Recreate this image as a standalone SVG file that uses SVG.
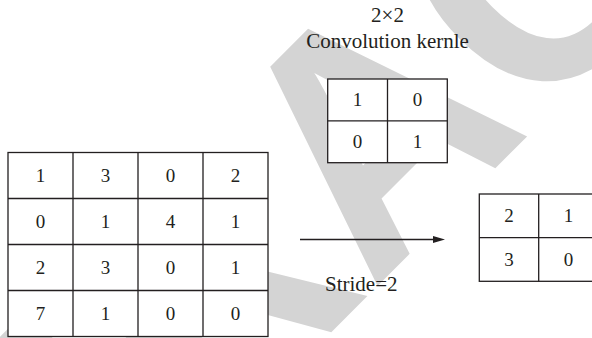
<svg xmlns="http://www.w3.org/2000/svg" width="592" height="338" viewBox="0 0 592 338">
  <defs>
    <style>
      .wm { font-family: "Liberation Sans", Arial, sans-serif; font-weight: bold; font-size: 325px; fill: #d4d4d4; }
      .grid { fill: #ffffff; stroke: #231f20; stroke-width: 1.3; }
      .ln { stroke: #231f20; stroke-width: 1.3; fill: none; }
      .num { font-family: "Liberation Serif", "Times New Roman", serif; font-size: 19px; fill: #231f20; text-anchor: middle; }
      .lbl { font-family: "Liberation Serif", "Times New Roman", serif; font-size: 21px; fill: #231f20; }
    </style>
  </defs>
  <rect width="592" height="338" fill="#ffffff"/>

  <!-- background stamp, drawn first so the white cells sit above it -->
  <text class="wm" x="0" y="0" text-anchor="middle" transform="translate(452.5,211) rotate(-45) scale(0.97,1.033)">RETRACTED</text>

  <!-- 4x4 input matrix -->
  <g id="input-matrix">
    <rect class="grid" x="8" y="152.5" width="260" height="184"/>
    <path class="ln" d="M73 152.5V336.5M138 152.5V336.5M203 152.5V336.5M8 198.5H268M8 244.5H268M8 290.5H268"/>
    <text class="num" x="40.5" y="181.5">1</text>
    <text class="num" x="105.5" y="181.5">3</text>
    <text class="num" x="170.5" y="181.5">0</text>
    <text class="num" x="235.5" y="181.5">2</text>
    <text class="num" x="40.5" y="227.5">0</text>
    <text class="num" x="105.5" y="227.5">1</text>
    <text class="num" x="170.5" y="227.5">4</text>
    <text class="num" x="235.5" y="227.5">1</text>
    <text class="num" x="40.5" y="273.5">2</text>
    <text class="num" x="105.5" y="273.5">3</text>
    <text class="num" x="170.5" y="273.5">0</text>
    <text class="num" x="235.5" y="273.5">1</text>
    <text class="num" x="40.5" y="319.5">7</text>
    <text class="num" x="105.5" y="319.5">1</text>
    <text class="num" x="170.5" y="319.5">0</text>
    <text class="num" x="235.5" y="319.5">0</text>
  </g>

  <!-- 2x2 kernel with its caption -->
  <g id="kernel">
    <text class="lbl" x="387.5" y="22" text-anchor="middle">2×2</text>
    <text class="lbl" x="387.5" y="47.5" text-anchor="middle">Convolution kernle</text>
    <rect class="grid" x="327.7" y="79" width="119.6" height="83.7"/>
    <path class="ln" d="M387.5 79V162.7M327.7 120.8H447.3"/>
    <text class="num" x="357.6" y="106">1</text>
    <text class="num" x="417.4" y="106">0</text>
    <text class="num" x="357.6" y="148">0</text>
    <text class="num" x="417.4" y="148">1</text>
  </g>

  <!-- 2x2 output map (right column runs past the edge) -->
  <g id="output-matrix">
    <rect class="grid" x="479.3" y="194" width="119" height="87.3"/>
    <path class="ln" d="M538.7 194V281.3M479.3 237.7H598.3"/>
    <text class="num" x="509" y="222">2</text>
    <text class="num" x="568.5" y="222">1</text>
    <text class="num" x="509" y="265.5">3</text>
    <text class="num" x="568.5" y="265.5">0</text>
  </g>

  <!-- stride arrow -->
  <g id="connectors">
    <line class="ln" x1="300" y1="239.5" x2="435" y2="239.5"/>
    <polygon points="445,239.5 433,236 433,243" fill="#231f20"/>
    <text class="lbl" x="325" y="291">Stride=2</text>
  </g>
</svg>
